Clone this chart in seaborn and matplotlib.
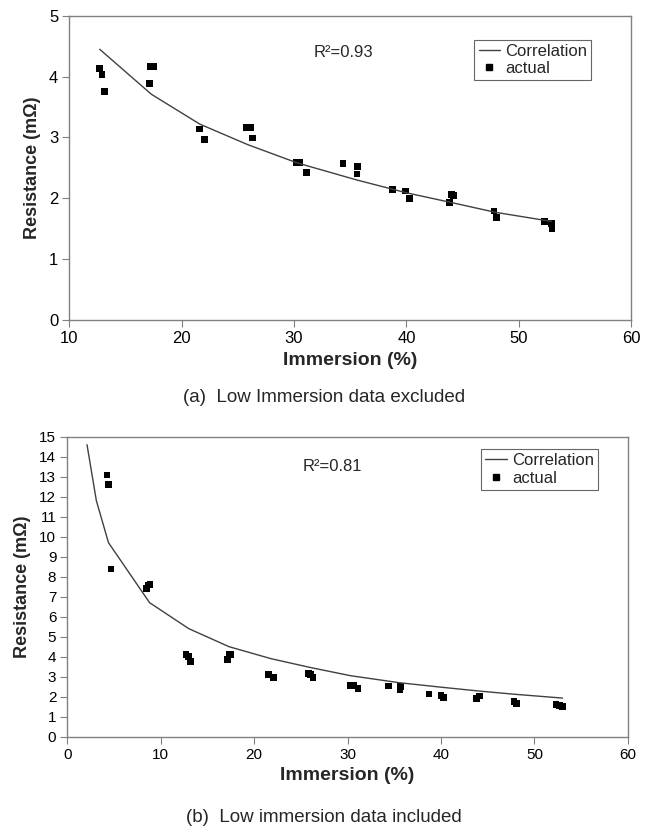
import numpy as np
import matplotlib
matplotlib.use("Agg")
import matplotlib.pyplot as plt
import seaborn as sns
from matplotlib.lines import Line2D

# (a) low immersion data excluded
top_x = [12.7, 12.9, 13.15, 17.15, 17.2, 17.5, 21.55, 22.0, 25.8, 26.1, 26.3,
         30.2, 30.5, 31.1, 34.35, 35.65, 35.6, 38.75, 39.9, 40.3, 43.85, 44.0,
         44.2, 47.8, 48.05, 52.3, 52.9, 52.95]
top_y = [4.13, 4.04, 3.76, 3.89, 4.16, 4.16, 3.14, 2.97, 3.17, 3.17, 2.99,
         2.59, 2.59, 2.42, 2.57, 2.52, 2.40, 2.15, 2.12, 1.99, 1.93, 2.06,
         2.04, 1.79, 1.68, 1.62, 1.59, 1.50]
top_fit_x = [12.7, 17.3, 21.6, 25.9, 30.3, 35.6, 40.0, 44.0, 47.9, 52.9]
top_fit_y = [4.45, 3.71, 3.22, 2.88, 2.58, 2.30, 2.09, 1.93, 1.77, 1.62]
top_r2 = "R²=0.93"

# (b) low immersion data included
bot_x = [4.24, 4.42, 4.67, 8.5, 8.65, 8.85, 12.7, 12.94, 13.2, 17.15, 17.3,
         17.5, 21.57, 22.1, 25.8, 26.0, 26.3, 30.3, 30.6, 31.1, 34.35, 35.66,
         35.6, 38.7, 40.0, 40.3, 43.8, 44.1, 47.8, 48.06, 52.3, 52.7, 53.0]
bot_y = [13.08, 12.62, 8.38, 7.42, 7.58, 7.62, 4.12, 4.0, 3.75, 3.87, 4.12,
         4.12, 3.12, 2.95, 3.15, 3.12, 2.97, 2.57, 2.57, 2.40, 2.53, 2.5,
         2.35, 2.13, 2.07, 1.95, 1.92, 2.03, 1.75, 1.65, 1.6, 1.55, 1.5]
bot_fit_x = [2.1, 3.1, 4.4, 8.8, 13.0, 17.3, 21.8, 26.1, 30.3, 35.5, 40.1,
             44.1, 47.9, 53.0]
bot_fit_y = [14.6, 11.8, 9.7, 6.7, 5.4, 4.5, 3.9, 3.45, 3.05, 2.7, 2.47,
             2.28, 2.12, 1.93]
bot_r2 = "R²=0.81"

sns.set_style("white")
plt.rcParams['font.family'] = ['Liberation Sans', 'DejaVu Sans']

fig = plt.figure(figsize=(6.48, 8.31), dpi=100)
ax1 = fig.add_axes([0.107, 0.615, 0.867, 0.366])
ax2 = fig.add_axes([0.104, 0.1135, 0.865, 0.361])

spine_col = '#808080'
line_col = '#404040'


def draw(ax, fx, fy, px, py, r2, r2pos, legpos, xlim, ylim, yticks, tsize):
    sns.lineplot(x=fx, y=fy, ax=ax, color=line_col, linewidth=1.0)
    sns.scatterplot(x=px, y=py, ax=ax, color='black', marker='s', s=24,
                    edgecolor='none', linewidth=0)
    ax.set_xlim(*xlim)
    ax.set_ylim(*ylim)
    ax.set_xticks(np.arange(xlim[0], xlim[1] + 1, 10))
    ax.set_yticks(yticks)
    for s in ax.spines.values():
        s.set_color(spine_col)
        s.set_linewidth(1.0)
    ax.tick_params(axis='both', direction='out', length=5, width=0.8,
                   color=spine_col, labelsize=tsize, labelcolor='black',
                   bottom=True, left=True, pad=3)
    ax.set_xlabel("Immersion (%)", fontsize=14, fontweight='bold', labelpad=4)
    ax.set_ylabel("Resistance (mΩ)", fontsize=13, fontweight='bold', labelpad=6)
    ax.text(r2pos[0], r2pos[1], r2, transform=ax.transAxes, fontsize=12,
            va='center', ha='left')
    handles = [Line2D([0], [0], color=line_col, lw=1.0),
               Line2D([0], [0], color='black', marker='s', lw=0, markersize=4.5)]
    leg = ax.legend(handles, ["Correlation", "actual"], loc='upper left',
                    bbox_to_anchor=legpos, fontsize=12, frameon=True,
                    fancybox=False, handlelength=1.3, handletextpad=0.3,
                    borderpad=0.25, labelspacing=0.15, borderaxespad=0)
    leg.get_frame().set_edgecolor('#404040')
    leg.get_frame().set_linewidth(0.8)


draw(ax1, top_fit_x, top_fit_y, top_x, top_y, top_r2, (0.435, 0.88),
     (0.721, 0.922), (10, 60), (0, 5), range(0, 6), 12)
draw(ax2, bot_fit_x, bot_fit_y, bot_x, bot_y, bot_r2, (0.42, 0.90),
     (0.738, 0.959), (0, 60), (0, 15), range(0, 16), 11)

fig.text(0.5, 1 - 397 / 831, "(a)  Low Immersion data excluded", fontsize=13.5,
         ha='center', va='center')
fig.text(0.5, 1 - 818 / 831, "(b)  Low immersion data included", fontsize=13.5,
         ha='center', va='center')

fig.savefig("out.png", dpi=100, facecolor='white')
